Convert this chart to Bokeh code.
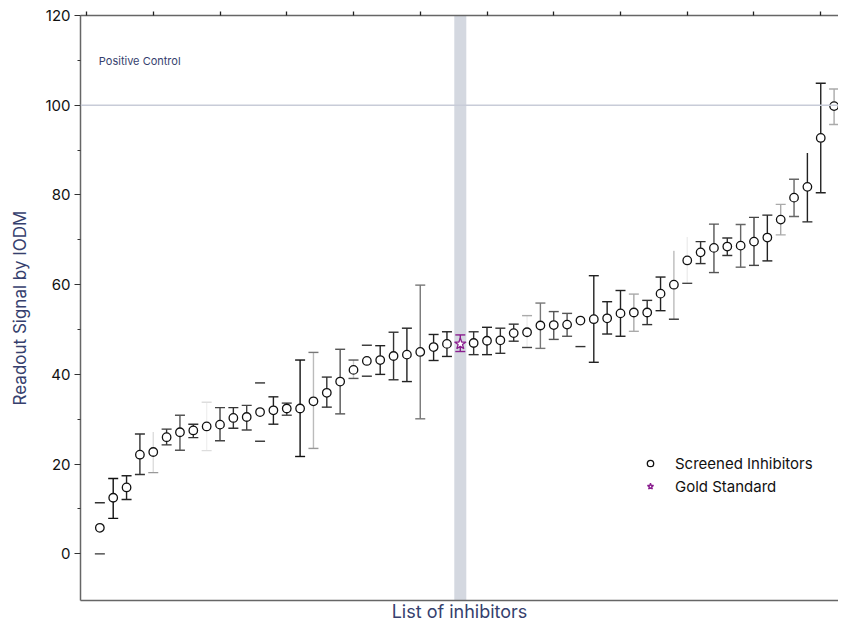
from bokeh.plotting import figure
from bokeh.models import (ColumnDataSource, Span, BoxAnnotation, Label, LinearAxis,
                          FixedTicker, Legend, LegendItem)
from bokeh.embed import file_html
from bokeh.resources import INLINE

# ---------------- data ----------------
inhibitor_rank = list(range(1, 57))
readout_mean = [5.8, 12.5, 14.8, 22.1, 22.7, 26.0, 27.1, 27.5, 28.4, 28.8,
                30.3, 30.5, 31.6, 32.0, 32.4, 32.4, 34.0, 35.9, 38.4, 41.0,
                43.0, 43.2, 44.1, 44.4, 45.0, 46.1, 46.8, 46.8, 47.0, 47.5,
                47.6, 49.2, 49.4, 50.9, 51.0, 51.1, 52.0, 52.3, 52.5, 53.6,
                53.8, 53.8, 58.0, 60.0, 65.4, 67.2, 68.2, 68.5, 68.7, 69.6,
                70.5, 74.5, 79.4, 81.8, 92.7, 99.8]
readout_low = [0.0, 7.9, 12.1, 17.7, 18.1, 24.3, 23.1, 25.9, 23.0, 25.2,
               28.0, 27.6, 25.1, 28.9, 30.9, 21.7, 23.5, 32.7, 31.2, 39.1,
               39.6, 40.0, 38.8, 38.4, 30.1, 43.1, 44.0, 45.1, 44.4, 44.4,
               44.7, 47.4, 46.0, 45.8, 47.8, 48.5, 46.2, 42.7, 49.0, 48.5,
               49.6, 51.1, 54.2, 52.3, 60.3, 64.7, 62.7, 66.5, 63.9, 64.3,
               65.3, 71.1, 75.2, 74.0, 80.5, 95.7]
readout_high = [11.4, 16.8, 17.4, 26.7, 27.3, 27.8, 30.9, 28.9, 33.8, 32.6,
                32.6, 33.1, 38.1, 35.0, 33.6, 43.2, 44.9, 39.4, 45.6, 43.2,
                46.5, 46.4, 49.4, 50.3, 59.9, 48.9, 49.5, 48.8, 49.5, 50.5,
                50.3, 51.2, 53.1, 55.9, 54.0, 53.6, 57.8, 62.0, 56.2, 58.7,
                57.9, 56.5, 61.7, 67.7, 70.8, 69.6, 73.5, 70.4, 73.4, 75.0,
                75.5, 77.9, 83.5, 89.5, 104.9, 103.6]
gold_standard_rank = 28
positive_control = 100
y_ticks = [0, 20, 40, 60, 80, 100, 120]
y_minor_ticks = [10, 30, 50, 70, 90, 110]
top_ticks = [0, 5, 10, 15, 20, 25, 30, 35, 40, 45, 50, 55]

# ---------------- styles ----------------
PURPLE = "#8a1f8f"
NAVY = "#363f6e"
err_line_shade = ["#ffffff", "#111111", "#222222", "#333333", "#dddddd", "#333333", "#555555", "#333333", "#f0f0f0", "#444444",
                  "#333333", "#444444", "#ffffff", "#222222", "#444444", "#111111", "#bbbbbb", "#333333", "#555555", "#cccccc",
                  "#ffffff", "#222222", "#333333", "#222222", "#777777", "#222222", "#222222", PURPLE, "#333333", "#222222",
                  "#333333", "#333333", "#eeeeee", "#777777", "#555555", "#555555", "#ffffff", "#222222", "#222222", "#222222",
                  "#aaaaaa", "#333333", "#222222", "#bbbbbb", "#eeeeee", "#333333", "#555555", "#333333", "#666666", "#444444",
                  "#222222", "#aaaaaa", "#666666", "#222222", "#222222", "#aaaaaa"]
err_top_shade = list(err_line_shade)
err_bot_shade = list(err_line_shade)
for i, c in {0: "#333333", 4: "#ffffff", 8: "#dddddd", 12: "#333333", 16: "#777777", 19: "#555555",
             20: "#333333", 32: "#aaaaaa", 36: "#ffffff", 43: "#ffffff", 44: "#ffffff", 53: "#ffffff"}.items():
    err_top_shade[i] = c
for i, c in {0: "#333333", 4: "#999999", 8: "#dddddd", 12: "#333333", 16: "#999999", 19: "#555555",
             20: "#333333", 32: "#444444", 36: "#333333", 43: "#333333", 44: "#444444"}.items():
    err_bot_shade[i] = c

g = gold_standard_rank - 1
src_err = ColumnDataSource(dict(x=inhibitor_rank, lo=readout_low, hi=readout_high,
                                lc=err_line_shade, tc=err_top_shade, bc=err_bot_shade))
scr_idx = [i for i in range(len(inhibitor_rank)) if i != g]
src_scr = ColumnDataSource(dict(x=[inhibitor_rank[i] for i in scr_idx],
                                y=[readout_mean[i] for i in scr_idx]))
src_gold = ColumnDataSource(dict(x=[inhibitor_rank[g]], y=[readout_mean[g]]))

p = figure(width=838, height=624, x_range=(-0.45, 56.33), y_range=(-10.4, 120),
           output_backend="svg", toolbar_location=None,
           min_border_left=80, min_border_top=15, min_border_right=0, min_border_bottom=0)
p.grid.visible = False
p.outline_line_color = None
p.background_fill_color = "white"
p.border_fill_color = "white"

# highlight band for gold standard
p.add_layout(BoxAnnotation(left=gold_standard_rank - 0.45, right=gold_standard_rank + 0.45,
                           fill_color="#d4d8e0", fill_alpha=1.0, line_color=None, level="underlay"))
# positive control line
p.add_layout(Span(location=positive_control, dimension="width", line_color="#c8ccd8", line_width=1.5))
p.add_layout(Label(x=inhibitor_rank[0], y=positive_control + 9.8, text="Positive Control",
                   text_font="Inter", text_font_size="11px", text_color=NAVY,
                   text_baseline="middle", text_align="left", x_offset=-1))

# error bars
p.segment(x0="x", y0="lo", x1="x", y1="hi", source=src_err, line_color="lc", line_width=1.4)
p.scatter(x="x", y="hi", source=src_err, marker="dash", size=10, line_color="tc", line_width=1.4)
p.scatter(x="x", y="lo", source=src_err, marker="dash", size=10, line_color="bc", line_width=1.4)

r_scr = p.scatter(x="x", y="y", source=src_scr, marker="circle", size=8.5,
                  fill_color="white", line_color="#111111", line_width=1.3)
r_gold = p.scatter(x="x", y="y", source=src_gold, marker="star", size=12,
                   fill_color="white", line_color=PURPLE, line_width=1.3)

# axes
ax_y = p.yaxis[0]
ax_y.ticker = FixedTicker(ticks=y_ticks, minor_ticks=y_minor_ticks)
ax_y.axis_label = "Readout Signal by IODM"
ax_y.axis_label_text_font = "Inter"
ax_y.axis_label_text_font_style = "normal"
ax_y.axis_label_text_font_size = "17px"
ax_y.axis_label_text_color = NAVY
ax_y.axis_label_standoff = 12
ax_y.major_label_text_font = "Inter"
ax_y.major_label_text_font_size = "15px"
ax_y.major_label_text_color = "#111111"
ax_y.major_label_standoff = 4
ax_y.major_tick_out = 6
ax_y.major_tick_in = 0
ax_y.minor_tick_out = 3
ax_y.minor_tick_in = 0
ax_y.axis_line_color = "#666666"
ax_y.axis_line_width = 1.5
ax_y.major_tick_line_color = "#333333"
ax_y.minor_tick_line_color = "#333333"

ax_x = p.xaxis[0]
ax_x.ticker = FixedTicker(ticks=[], minor_ticks=[])
ax_x.axis_label = "List of inhibitors"
ax_x.axis_label_text_font = "Inter"
ax_x.axis_label_text_font_style = "normal"
ax_x.axis_label_text_font_size = "18px"
ax_x.axis_label_text_color = NAVY
ax_x.axis_label_standoff = 0
ax_x.major_label_standoff = 0
ax_x.major_tick_out = 0
ax_x.minor_tick_out = 0
ax_x.axis_line_color = "#666666"
ax_x.axis_line_width = 1.5

ax_top = LinearAxis(ticker=FixedTicker(ticks=[], minor_ticks=top_ticks))
ax_top.major_label_standoff = 0
ax_top.major_tick_out = 0
ax_top.minor_tick_out = 4
ax_top.minor_tick_in = 0
ax_top.minor_tick_line_width = 1.3
ax_top.axis_line_color = "#666666"
ax_top.axis_line_width = 1.5
ax_top.minor_tick_line_color = "#222222"
p.add_layout(ax_top, "above")

legend = Legend(items=[LegendItem(label="Screened Inhibitors", renderers=[r_scr]),
                       LegendItem(label="Gold Standard", renderers=[r_gold])],
                location=(562, 104), border_line_color=None, background_fill_alpha=0,
                glyph_width=16, glyph_height=20, label_height=20, label_standoff=17,
                padding=0, margin=0, spacing=3,
                label_text_font="Inter", label_text_font_size="15px", label_text_color="#111111")
p.add_layout(legend)

open("out.html", "w").write(file_html(p, INLINE))
